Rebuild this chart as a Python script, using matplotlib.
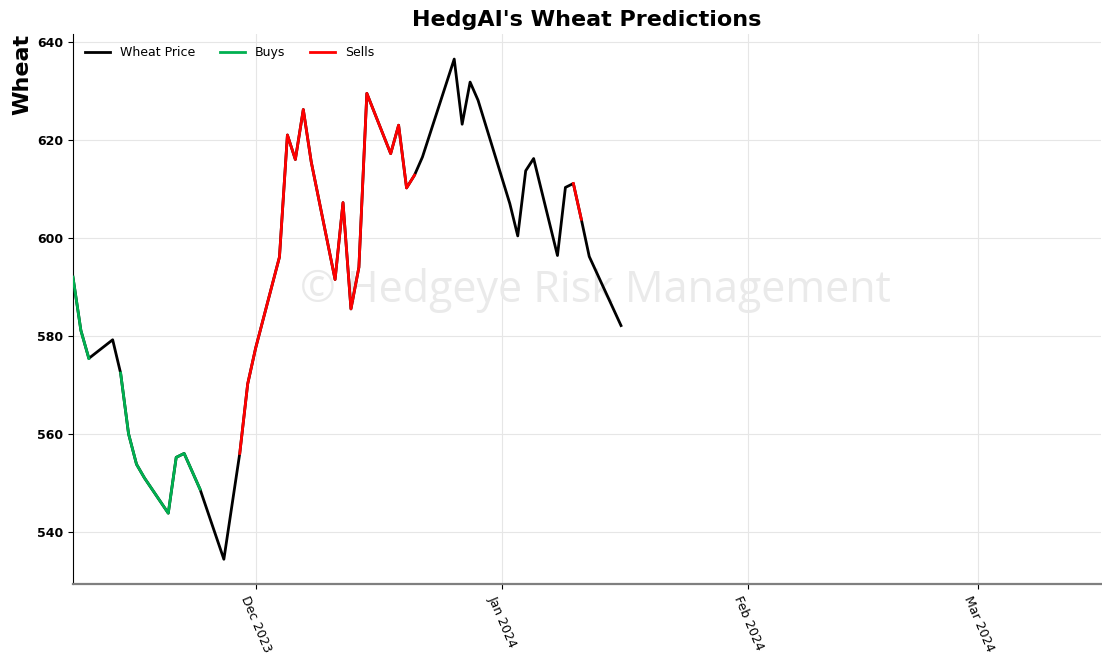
import pandas as pd
import numpy as np
import matplotlib
matplotlib.use('Agg')
import matplotlib.pyplot as plt
import matplotlib.dates as mdates

# Daily wheat closes with the model signal for each session
dates = ['2023-11-08', '2023-11-09', '2023-11-10', '2023-11-13', '2023-11-14',
         '2023-11-15', '2023-11-16', '2023-11-17', '2023-11-20', '2023-11-21',
         '2023-11-22', '2023-11-24', '2023-11-27', '2023-11-28', '2023-11-29',
         '2023-11-30', '2023-12-01', '2023-12-04', '2023-12-05', '2023-12-06',
         '2023-12-07', '2023-12-08', '2023-12-11', '2023-12-12', '2023-12-13',
         '2023-12-14', '2023-12-15', '2023-12-18', '2023-12-19', '2023-12-20',
         '2023-12-21', '2023-12-22', '2023-12-26', '2023-12-27', '2023-12-28',
         '2023-12-29', '2024-01-02', '2024-01-03', '2024-01-04', '2024-01-05',
         '2024-01-08', '2024-01-09', '2024-01-10', '2024-01-11', '2024-01-12',
         '2024-01-16']
prices = [592.0, 581.1, 575.4, 579.2, 572.4,
          560.0, 553.8, 551.0, 543.8, 555.2,
          556.0, 548.7, 534.4, 545.2, 556.0,
          570.2, 577.5, 596.1, 621.0, 616.0,
          626.2, 615.5, 591.5, 607.2, 585.5,
          594.0, 629.5, 617.2, 623.0, 610.2,
          612.8, 616.5, 636.5, 623.2, 631.8,
          628.1, 607.0, 600.4, 613.7, 616.2,
          596.4, 610.3, 611.1, 603.8, 596.2,
          582.1]
signals = ['buy', 'buy', 'buy', '', 'buy',
           'buy', 'buy', 'buy', 'buy', 'buy',
           'buy', 'buy', '', '', 'sell',
           'sell', 'sell', 'sell', 'sell', 'sell',
           'sell', 'sell', 'sell', 'sell', 'sell',
           'sell', 'sell', 'sell', 'sell', 'sell',
           'sell', '', '', '', '',
           '', '', '', '', '',
           '', '', 'sell', 'sell', '',
           '']

x_start = '2023-11-08'
x_end = '2024-03-16 10:00'

df = pd.DataFrame({'date': pd.to_datetime(dates), 'price': prices, 'signal': signals})
df['buys'] = np.where(df['signal'] == 'buy', df['price'], np.nan)
df['sells'] = np.where(df['signal'] == 'sell', df['price'], np.nan)

fig = plt.figure(figsize=(11.02, 6.55), dpi=100)
ax = fig.add_axes([0.0662, 0.108, 0.9328, 0.84])

ax.plot(df['date'], df['price'], color='black', lw=2, label='Wheat Price', zorder=3)
ax.plot(df['date'], df['buys'], color='#00b050', lw=2, label='Buys', zorder=4)
ax.plot(df['date'], df['sells'], color='#ff0000', lw=2, label='Sells', zorder=4)

ax.set_xlim(pd.Timestamp(x_start), pd.Timestamp(x_end))
ax.set_yticks([540, 560, 580, 600, 620, 640])
ax.xaxis.set_major_locator(mdates.MonthLocator())
ax.xaxis.set_major_formatter(mdates.DateFormatter('%b %Y'))
plt.setp(ax.get_xticklabels(), rotation=-67, fontsize=9)
plt.setp(ax.get_yticklabels(), fontweight='bold', fontsize=9)

ax.grid(True, color='#e6e6e6', lw=0.8)
ax.set_axisbelow(True)
ax.spines['top'].set_visible(False)
ax.spines['right'].set_visible(False)
ax.spines['bottom'].set_color('#7f7f7f')
ax.spines['bottom'].set_linewidth(1.6)

ax.set_title("HedgAI's Wheat Predictions", fontsize=16, fontweight='bold', pad=6)
ax.set_ylabel('Wheat', fontsize=16, fontweight='bold', loc='top', labelpad=3)
ax.legend(loc='upper left', ncol=3, frameon=False, fontsize=9, borderaxespad=0.55)

# watermark sits behind the price lines
ax.text(0.54, 0.557, '\u00a9 Hedgeye Risk Management', fontsize=31, color='#eaeaea',
        ha='center', va='center', family='Open Sans', zorder=1, transform=fig.transFigure)

plt.savefig('out.png', dpi=100)
